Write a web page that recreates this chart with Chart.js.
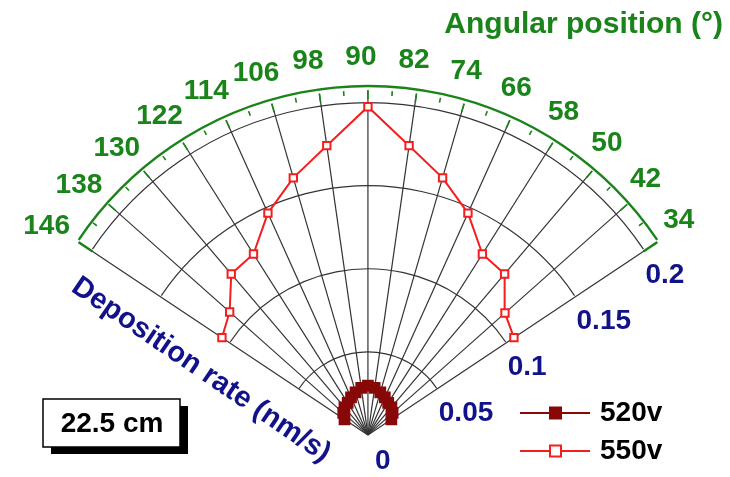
<!DOCTYPE html>
<html>
<head>
<meta charset="utf-8">
<script src="https://cdn.jsdelivr.net/npm/chart.js@4/dist/chart.umd.min.js"></script>
<style>
  html, body { margin: 0; padding: 0; background: #fff; }
  canvas { display: block; }
</style>
</head>
<body>
<canvas id="polarCanvas" width="730" height="477"></canvas>
<script>
// angular position of each measurement (degrees)
const angles = [34, 42, 50, 58, 66, 74, 82, 90, 98, 106, 114, 122, 130, 138, 146];
// deposition rate (nm/s) for each discharge voltage
const rate520 = [0.017, 0.020, 0.022, 0.023, 0.025, 0.027, 0.029, 0.030, 0.029, 0.027, 0.025, 0.023, 0.022, 0.020, 0.017];
const rate550 = [0.106, 0.111, 0.128, 0.130, 0.148, 0.163, 0.178, 0.200, 0.178, 0.163, 0.148, 0.130, 0.128, 0.112, 0.106];
const radialTicks = [0, 0.05, 0.1, 0.15, 0.2];
const seriesLabels = ['520v', '550v'];
const distanceLabel = '22.5 cm';

// layout of the fan: pole position on the canvas and pixels per nm/s
const W = 730, H = 477;
const CX = 368, CY = 442, PX_PER_UNIT = 1700;
const OUTER = 0.21;           // radius of the angular axis arc
const LABEL_R = 0.2295;       // radius where the angle labels sit
const D2R = Math.PI / 180;

const GREEN = '#1a841a';
const NAVY = '#12128a';
const DARK_RED = '#880808';
const RED = '#f51e1e';
const GRID = '#333333';
const FONT = '"Liberation Sans", Arial, sans-serif';

function toXY(deg, r) {
  return { x: r * Math.cos(deg * D2R), y: r * Math.sin(deg * D2R) };
}

const polarFrame = {
  id: 'polarFrame',
  beforeDatasetsDraw(chart) {
    const ctx = chart.ctx;
    const xs = chart.scales.x, ys = chart.scales.y;
    const px = (deg, r) => {
      const p = toXY(deg, r);
      return [xs.getPixelForValue(p.x), ys.getPixelForValue(p.y)];
    };
    const cx = xs.getPixelForValue(0), cy = ys.getPixelForValue(0);
    const rad = r => xs.getPixelForValue(r) - cx;
    const first = angles[0], last = angles[angles.length - 1];

    ctx.save();
    // spokes
    ctx.strokeStyle = GRID;
    ctx.lineWidth = 1.2;
    angles.forEach(a => {
      const [x, y] = px(a, OUTER);
      ctx.beginPath();
      ctx.moveTo(cx, cy);
      ctx.lineTo(x, y);
      ctx.stroke();
    });
    // rate circles
    radialTicks.filter(r => r > 0).forEach(r => {
      ctx.beginPath();
      ctx.arc(cx, cy, rad(r), -last * D2R, -first * D2R);
      ctx.stroke();
    });

    // angular axis
    ctx.strokeStyle = GREEN;
    ctx.lineWidth = 2.4;
    ctx.beginPath();
    ctx.arc(cx, cy, rad(OUTER), -last * D2R, -first * D2R);
    ctx.stroke();
    [first, last].forEach(a => {
      const [x0, y0] = px(a, 0.2);
      const [x1, y1] = px(a, OUTER);
      ctx.beginPath();
      ctx.moveTo(x0, y0);
      ctx.lineTo(x1, y1);
      ctx.stroke();
    });
    ctx.lineWidth = 1.6;
    for (let a = first; a <= last; a += 4) {
      const major = (a - first) % 8 === 0;
      const len = (major ? 9 : 5) / PX_PER_UNIT;
      const [x0, y0] = px(a, OUTER);
      const [x1, y1] = px(a, OUTER - len);
      ctx.beginPath();
      ctx.moveTo(x0, y0);
      ctx.lineTo(x1, y1);
      ctx.stroke();
    }
    ctx.restore();
  },
  afterDraw(chart) {
    const ctx = chart.ctx;
    const xs = chart.scales.x, ys = chart.scales.y;
    const px = (deg, r) => {
      const p = toXY(deg, r);
      return [xs.getPixelForValue(p.x), ys.getPixelForValue(p.y)];
    };
    ctx.save();

    // angle labels
    ctx.fillStyle = GREEN;
    ctx.font = 'bold 28px ' + FONT;
    ctx.textAlign = 'center';
    ctx.textBaseline = 'middle';
    angles.forEach(a => {
      const [x, y] = px(a + 0.6, LABEL_R);
      ctx.fillText(String(a), x - 3, y - 1);
    });
    ctx.font = 'bold 30px ' + FONT;
    ctx.textAlign = 'right';
    ctx.fillText('Angular position (°)', 723, 25);

    // rate labels along the 34° edge
    ctx.font = 'bold 28px ' + FONT;
    ctx.fillStyle = NAVY;
    ctx.textAlign = 'left';
    radialTicks.forEach(r => {
      const [x, y] = px(angles[0], r);
      ctx.fillText(String(r), x + (r === 0 ? 7 : 2), y + (r === 0 ? 26 : 24));
    });

    // radial axis title, parallel to the 146° edge
    ctx.save();
    ctx.translate(201, 370);
    ctx.rotate(34.2 * D2R);
    ctx.font = 'bold 29px ' + FONT;
    ctx.textAlign = 'center';
    ctx.fillText('Deposition rate (nm/s)', 0, 0);
    ctx.restore();

    // legend
    ctx.font = 'bold 28px ' + FONT;
    ctx.textAlign = 'left';
    chart.data.datasets.forEach((ds, i) => {
      const y = 413 + i * 38;
      ctx.strokeStyle = ds.borderColor;
      ctx.lineWidth = 2;
      ctx.beginPath();
      ctx.moveTo(520, y);
      ctx.lineTo(590, y);
      ctx.stroke();
      if (i === 0) {
        ctx.fillStyle = ds.borderColor;
        ctx.fillRect(549, y - 6.5, 13, 13);
      } else {
        ctx.fillStyle = '#fff';
        ctx.fillRect(550, y - 5.5, 11, 11);
        ctx.strokeRect(550, y - 5.5, 11, 11);
      }
      ctx.fillStyle = '#000';
      ctx.fillText(ds.label, 600, y);
    });

    // distance box with drop shadow
    ctx.fillStyle = '#000';
    ctx.fillRect(51, 406, 137, 48);
    ctx.fillStyle = '#fff';
    ctx.fillRect(43, 399, 137, 48);
    ctx.strokeStyle = '#000';
    ctx.lineWidth = 1.5;
    ctx.strokeRect(43, 399, 137, 48);
    ctx.fillStyle = '#000';
    ctx.textAlign = 'center';
    ctx.fillText(distanceLabel, 112, 424);

    ctx.restore();
  }
};

new Chart(document.getElementById('polarCanvas'), {
  type: 'scatter',
  data: {
    datasets: [
      {
        label: seriesLabels[0],
        data: angles.map((a, i) => toXY(a, rate520[i])),
        showLine: true,
        borderColor: DARK_RED,
        borderWidth: 2,
        pointStyle: 'rect',
        pointRadius: 8.3,
        pointBackgroundColor: DARK_RED,
        pointBorderColor: DARK_RED,
        pointBorderWidth: 0
      },
      {
        label: seriesLabels[1],
        data: angles.map((a, i) => toXY(a, rate550[i])),
        showLine: true,
        borderColor: RED,
        borderWidth: 2,
        pointStyle: 'rect',
        pointRadius: 5.2,
        pointBackgroundColor: '#fff',
        pointBorderColor: RED,
        pointBorderWidth: 2
      }
    ]
  },
  options: {
    responsive: false,
    animation: false,
    devicePixelRatio: 1,
    layout: { padding: 0 },
    scales: {
      x: { type: 'linear', display: false, min: -CX / PX_PER_UNIT, max: (W - CX) / PX_PER_UNIT },
      y: { type: 'linear', display: false, min: -(H - CY) / PX_PER_UNIT, max: CY / PX_PER_UNIT }
    },
    plugins: {
      legend: { display: false },
      tooltip: { enabled: false }
    }
  },
  plugins: [polarFrame]
});
</script>
</body>
</html>
